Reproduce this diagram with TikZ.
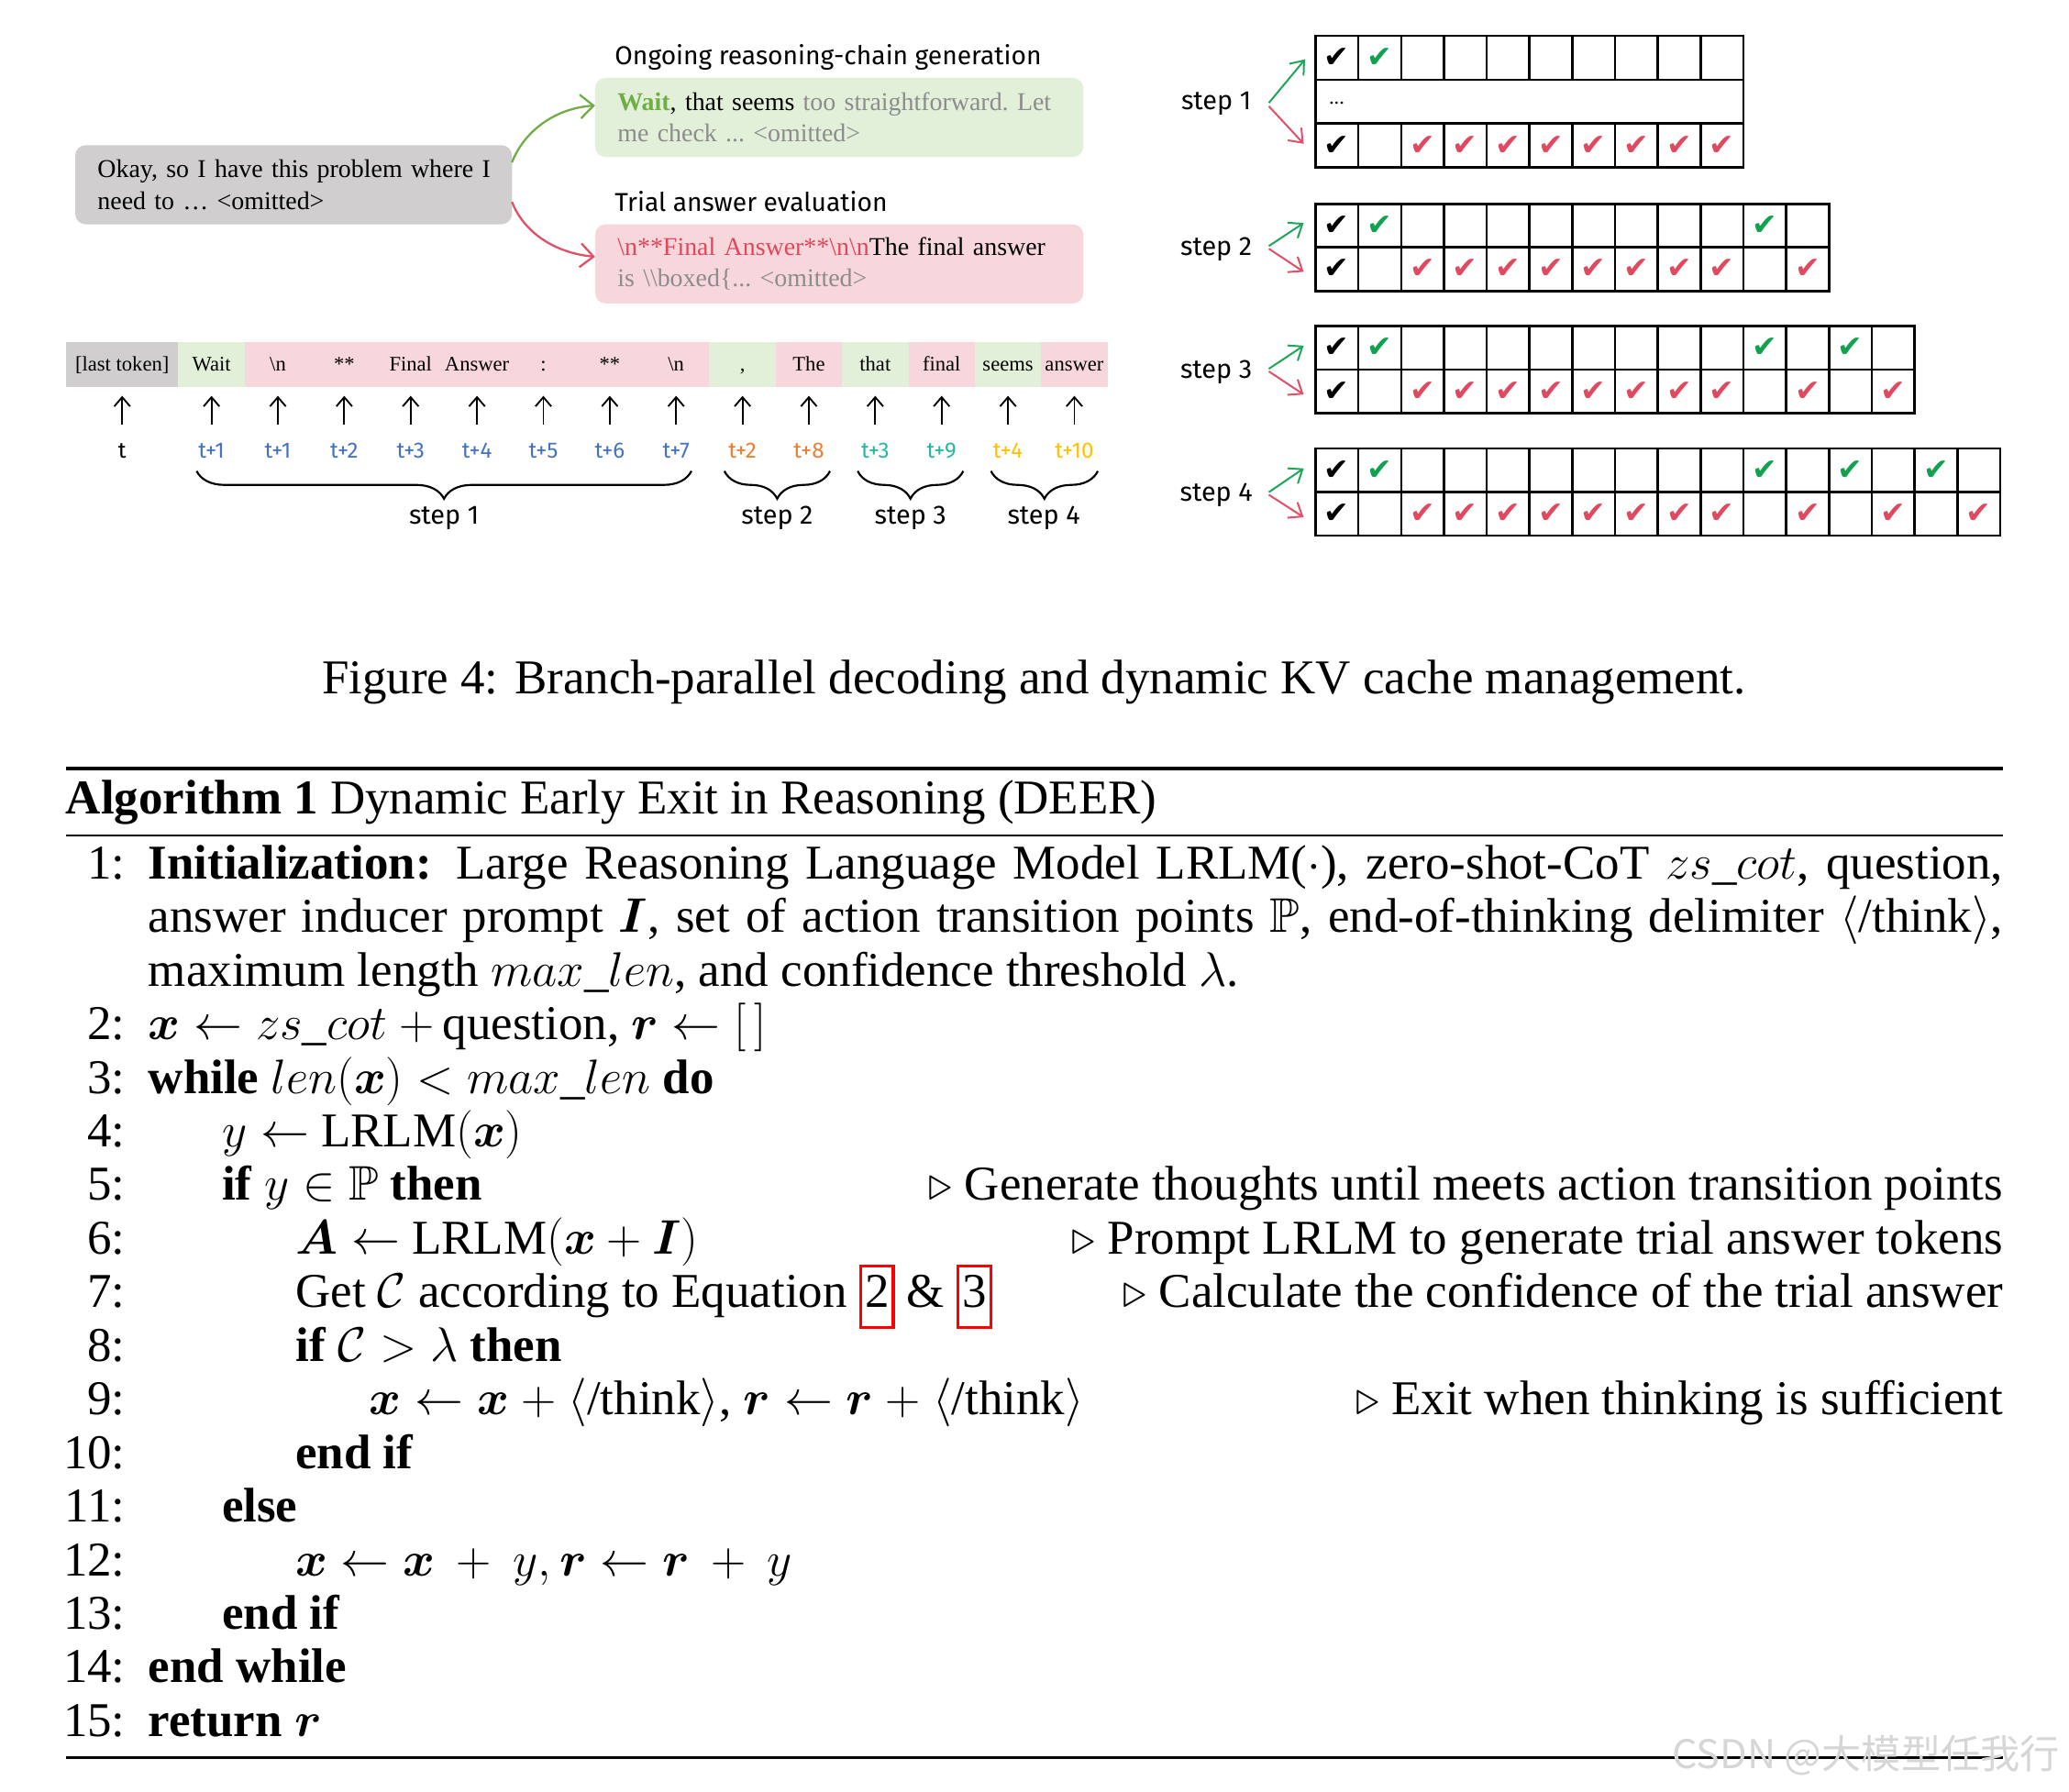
\RequirePackage{fix-cm}
\documentclass[tikz,border=0pt]{standalone}
\usepackage{amsmath,amssymb,bm}
\usepackage{fontspec}
\setmainfont{Liberation Serif}
\newfontfamily\comicfont{Fira Sans}
\newfontfamily\symfont{DejaVu Sans}
\newfontfamily\cjkfont{Noto Sans CJK SC}
\usetikzlibrary{arrows.meta,decorations.pathreplacing}

\definecolor{boxgray}{HTML}{D0CECE}
\definecolor{boxgreen}{HTML}{E2F0D9}
\definecolor{boxpink}{HTML}{F8D7DC}
\definecolor{waitgreen}{HTML}{70AD47}
\definecolor{txtgray}{HTML}{8C8C8C}
\definecolor{txtred}{HTML}{E0475B}
\definecolor{tblue}{HTML}{4472C4}
\definecolor{torange}{HTML}{ED7D31}
\definecolor{tteal}{HTML}{26B6A0}
\definecolor{tgold}{HTML}{FFC000}
\definecolor{ckgreen}{HTML}{12A150}
\definecolor{ckred}{HTML}{E04A60}
\definecolor{arrgreen}{HTML}{1FA65A}
\definecolor{arrred}{HTML}{E05068}

\newcommand\algfont{\fontsize{18.4}{20.3}\selectfont}
\newcommand\boxfont{\fontsize{9.7}{12}\selectfont\frenchspacing}
\newcommand\tokfont{\fontsize{7.85}{9}\selectfont}
\newcommand\eqbox[1]{{\setlength{\fboxsep}{1pt}\setlength{\fboxrule}{1.1pt}\color{red}\fbox{\color{black}\strut #1}}}

\newcommand\kvgrid[4]{% #1 name, #2 top y, #3 ncols, #4 ncols-1
  \draw[gridline] (997,#2) rectangle ({997+32.43*#3},{#2+66});
  \draw[gridline] (997,{#2+33}) -- ({997+32.43*#3},{#2+33});
  \foreach \c in {1,...,#4}
    \draw[gridline] ({997+32.43*\c},#2) -- ({997+32.43*\c},{#2+66});
}
\newcommand\kvchecks[4]{% #1 name, #2 top y, #3 green cols, #4 red cols
  \node[chk] (#1kt) at ({997+32.43*0.5},{#2+16.5}) {✔};
  \node[chk] (#1kb) at ({997+32.43*0.5},{#2+49.5}) {✔};
  \foreach \c in {#3}
    \node[chk,text=ckgreen] (#1g\c) at ({997+32.43*(\c-0.5)},{#2+16.5}) {✔};
  \foreach \c in {#4}
    \node[chk,text=ckred] (#1r\c) at ({997+32.43*(\c-0.5)},{#2+49.5}) {✔};
}

\tikzset{
  every node/.style={inner sep=0pt, outer sep=0pt},
  txtbox/.style={rounded corners=4pt, text width=148pt, align=left,
    inner xsep=8.5pt, minimum height=30pt, font=\boxfont},
  heading/.style={font=\comicfont\fontsize{9.8}{11}\selectfont, anchor=base west},
  tok/.style={font=\tokfont, anchor=base},
  tlab/.style={font=\comicfont\fontsize{8.4}{9}\selectfont, anchor=base},
  steplab/.style={font=\comicfont\fontsize{10}{12}\selectfont, anchor=base},
  uparrow/.style={-{Straight Barb[length=3.5pt,width=6pt]}, line width=0.65pt},
  carrow/.style={-{Straight Barb[length=5pt,width=9pt]}, line width=0.8pt},
  sarrow/.style={-{Straight Barb[length=4.5pt,width=7pt]}, line width=0.7pt},
  gridline/.style={line width=0.9pt},
  brc/.style={decorate, decoration={brace, mirror, amplitude=10.5pt}, line width=0.75pt},
  chk/.style={font=\symfont\fontsize{11.5}{11.5}\selectfont},
  algtext/.style={font=\algfont},
}

\begin{document}
\begin{tikzpicture}[x=0.5pt,y=-0.5pt]
\useasboundingbox (0,0) rectangle (1568,1357.5);

% ---------- top-left boxes ----------
\node[txtbox, fill=boxgray, text width=148.5pt] (gbx) at (222.5,140)
  {\mbox{Okay, so I have this problem where I}\\ \mbox{need to … <omitted>}};
\node[heading] (h1) at (466,49) {Ongoing reasoning-chain generation};
\node[txtbox, fill=boxgreen, text width=168pt] (gnb) at (636,89)
  {\mbox{{\bfseries\color{waitgreen}Wait}, that seems {\color{txtgray}too straightforward. Let}}\\
   \mbox{\color{txtgray}me check ... <omitted>}};
\node[heading] (h2) at (466,160) {Trial answer evaluation};
\node[txtbox, fill=boxpink, text width=168pt] (pkb) at (636,200)
  {\mbox{{\color{txtred}\textbackslash n**Final Answer**\textbackslash n\textbackslash n}The final answer}\\
   \mbox{\color{txtgray}is \textbackslash\textbackslash boxed\{... <omitted>}};
\draw[carrow, draw=waitgreen] ([yshift=8.5pt]gbx.east) .. controls +(9,-23) and +(-31,2) .. ([yshift=4.5pt]gnb.west);
\draw[carrow, draw=arrred] ([yshift=-6.5pt]gbx.east) .. controls +(9,23) and +(-31,-3) .. ([yshift=2.7pt]pkb.west);

% ---------- token row ----------
\fill[boxgray]  (50,259) rectangle (135.15,293);
\fill[boxgreen] (135.15,259) rectangle (185.45,293);
\fill[boxpink]  (185.45,259) rectangle (537.55,293);
\fill[boxgreen] (537.55,259) rectangle (587.85,293);
\fill[boxpink]  (587.85,259) rectangle (638.15,293);
\fill[boxgreen] (638.15,259) rectangle (688.45,293);
\fill[boxpink]  (688.45,259) rectangle (738.75,293);
\fill[boxgreen] (738.75,259) rectangle (789.05,293);
\fill[boxpink]  (789.05,259) rectangle (839.35,293);

\node[tok] (tk0) at (92.6,281) {[last token]};
\foreach \i/\w in {1/Wait,2/\textbackslash n,3/**,4/Final,5/Answer,6/:,7/**,8/\textbackslash n,
                   9/{,},10/The,11/that,12/final,13/seems,14/answer}
  \node[tok] (tk\i) at ({160.3+50.3*(\i-1)},281) {\w};

\coordinate (ab0) at (92.6,322); \coordinate (at0) at (92.6,300);
\draw[uparrow] (ab0) -- (at0);
\foreach \i in {1,...,14}{
  \coordinate (ab\i) at ({160.3+50.3*(\i-1)},322);
  \coordinate (at\i) at ({160.3+50.3*(\i-1)},300);
  \draw[uparrow] (ab\i) -- (at\i);
}

\node[tlab] (tl0) at (92.6,347) {t};
\foreach \i/\w/\cl in {1/t+1/tblue,2/t+1/tblue,3/t+2/tblue,4/t+3/tblue,5/t+4/tblue,6/t+5/tblue,
                       7/t+6/tblue,8/t+7/tblue,9/t+2/torange,10/t+8/torange,11/t+3/tteal,
                       12/t+9/tteal,13/t+4/tgold,14/t+10/tgold}
  \node[tlab, text=\cl] (tl\i) at ({160.3+50.3*(\i-1)},347) {\w};

\coordinate (b1a) at (149,357); \coordinate (b1b) at (524,357);
\coordinate (b2a) at (549,357); \coordinate (b2b) at (629,357);
\coordinate (b3a) at (650,357); \coordinate (b3b) at (730,357);
\coordinate (b4a) at (751,357); \coordinate (b4b) at (832,357);
\draw[brc] (b1a) -- (b1b);
\draw[brc] (b2a) -- (b2b);
\draw[brc] (b3a) -- (b3b);
\draw[brc] (b4a) -- (b4b);
\node[steplab] (bs1) at (336.5,397) {step 1};
\node[steplab] (bs2) at (589,397) {step 2};
\node[steplab] (bs3) at (690,397) {step 3};
\node[steplab] (bs4) at (791,397) {step 4};

% ---------- right: KV cache grids ----------
% step 1
\draw[gridline] (997,27) rectangle (1321.3,127);
\draw[gridline] (997,60.5) -- (1321.3,60.5) (997,93.5) -- (1321.3,93.5);
\foreach \c in {1,...,9}
  \draw[gridline] ({997+32.43*\c},27) -- ({997+32.43*\c},60.5) ({997+32.43*\c},93.5) -- ({997+32.43*\c},127);
\node[chk] (s1kt) at ({997+32.43*0.5},43.75) {✔};
\node[chk,text=ckgreen] (s1g2) at ({997+32.43*1.5},43.75) {✔};
\node[tok] (s1dots) at (1013,79) {...};
\node[chk] (s1kb) at ({997+32.43*0.5},110.25) {✔};
\foreach \c in {3,...,10}
  \node[chk,text=ckred] (s1r\c) at ({997+32.43*(\c-0.5)},110.25) {✔};

\kvgrid{s2}{154.5}{12}{11}
\kvchecks{s2}{154.5}{2,11}{3,4,5,6,7,8,9,10,12}
\kvgrid{s3}{247}{14}{13}
\kvchecks{s3}{247}{2,11,13}{3,4,5,6,7,8,9,10,12,14}
\kvgrid{s4}{340}{16}{15}
\kvchecks{s4}{340}{2,11,13,15}{3,4,5,6,7,8,9,10,12,14,16}

\node[steplab] (rs1) at (921.7,83) {step 1};
\node[steplab] (rs2) at (921.7,193.5) {step 2};
\node[steplab] (rs3) at (921.7,286.5) {step 3};
\node[steplab] (rs4) at (921.7,379.5) {step 4};

\coordinate (o1g) at (961.6,78);    \coordinate (e1g) at (989,45);
\coordinate (o1r) at (961.6,80.5);  \coordinate (e1r) at (988,109);
\coordinate (o2g) at (961.6,186.5); \coordinate (e2g) at (988,169);
\coordinate (o2r) at (961.6,188.5); \coordinate (e2r) at (988,206);
\coordinate (o3g) at (961.6,279.5); \coordinate (e3g) at (988,262);
\coordinate (o3r) at (961.6,281.5); \coordinate (e3r) at (988,299);
\coordinate (o4g) at (961.6,373);   \coordinate (e4g) at (988,355);
\coordinate (o4r) at (961.6,375);   \coordinate (e4r) at (988,392);
\foreach \s in {1,2,3,4}{
  \draw[sarrow, draw=arrgreen] (o\s g) -- (e\s g);
  \draw[sarrow, draw=arrred] (o\s r) -- (e\s r);
}

% ---------- caption ----------
\node[algtext, anchor=base] (cap) at (783.5,526)
  {Figure 4: Branch-parallel decoding and dynamic KV cache management.};

% ---------- algorithm ----------
\draw[line width=1.4pt] (50,582.5) -- (1518,582.5);
\node[algtext, anchor=base west] (title) at (50,617)
  {\textbf{Algorithm 1} Dynamic Early Exit in Reasoning (DEER)};
\draw[line width=0.75pt] (50,633) -- (1518,633);

\foreach \n/\i in {1/0,2/3,3/4,4/5,5/6,6/7,7/8,8/9,9/10,10/11,11/12,12/13,13/14,14/15,15/16}
  \node[algtext, anchor=base east] (num\n) at (95,{666+40.625*\i}) {\n:};

\node[algtext, anchor=base west] (l1a) at (112.5,666)
  {\makebox[702.75pt][s]{\textbf{Initialization:} Large Reasoning Language Model LRLM($\cdot$), zero-shot-CoT $zs\_cot$, question,}};
\node[algtext, anchor=base west] (l1b) at (112.5,706.625)
  {\makebox[702.75pt][s]{answer inducer prompt $\bm{I}$, set of action transition points $\mathbb{P}$, end-of-thinking delimiter $\langle$/think$\rangle$,}};
\node[algtext, anchor=base west] (l1c) at (112.5,747.25)
  {maximum length $max\_len$, and confidence threshold $\lambda$.};
\node[algtext, anchor=base west] (l2) at (112.5,787.875)
  {$\bm{x}\leftarrow zs\_cot$ $+\,$question, $\bm{r}\leftarrow[\,]$};
\node[algtext, anchor=base west] (l3) at (112.5,828.5)
  {\textbf{while} $len(\bm{x}) < max\_len$ \textbf{do}};
\node[algtext, anchor=base west] (l4) at (168.3,869.125)
  {$y\leftarrow$ LRLM$(\bm{x})$};
\node[algtext, anchor=base west] (l5) at (168.3,909.75)
  {\textbf{if} $y\in\mathbb{P}$ \textbf{then}};
\node[algtext, anchor=base west] (l6) at (224,950.375)
  {$\bm{A}\leftarrow$ LRLM$(\bm{x}+\bm{I})$};
\node[algtext, anchor=base west] (l7) at (224,991)
  {Get $\mathcal{C}$ according to Equation \eqbox{2} \& \eqbox{3}};
\node[algtext, anchor=base west] (l8) at (224,1031.625)
  {\textbf{if} $\mathcal{C}>\lambda$ \textbf{then}};
\node[algtext, anchor=base west] (l9) at (280,1072.25)
  {$\bm{x}\leftarrow\bm{x}$ $+$ $\langle$/think$\rangle$, $\bm{r}\leftarrow\bm{r}$ $+$ $\langle$/think$\rangle$};
\node[algtext, anchor=base west] (l10) at (224,1112.875) {\textbf{end if}};
\node[algtext, anchor=base west] (l11) at (168.3,1153.5) {\textbf{else}};
\node[algtext, anchor=base west] (l12) at (224,1194.125)
  {$\bm{x}\leftarrow\bm{x}\:+\:y, \bm{r}\leftarrow\bm{r}\:+\:y$};
\node[algtext, anchor=base west] (l13) at (168.3,1234.75) {\textbf{end if}};
\node[algtext, anchor=base west] (l14) at (112.5,1275.375) {\textbf{end while}};
\node[algtext, anchor=base west] (l15) at (112.5,1316) {\textbf{return} $\bm{r}$};

\node[algtext, anchor=base east] (c5) at (1518,909.75)
  {$\triangleright$ Generate thoughts until meets action transition points};
\node[algtext, anchor=base east] (c6) at (1518,950.375)
  {$\triangleright$ Prompt LRLM to generate trial answer tokens};
\node[algtext, anchor=base east] (c7) at (1518,991)
  {$\triangleright$ Calculate the confidence of the trial answer};
\node[algtext, anchor=base east] (c9) at (1518,1072.25)
  {$\triangleright$ Exit when thinking is sufficient};

\draw[line width=0.75pt] (50,1332) -- (1518,1332);
\node[text=black!16, font=\cjkfont\fontsize{15}{15}\selectfont] (wm) at (1414,1330) {CSDN @大模型任我行};
\end{tikzpicture}
\end{document}
